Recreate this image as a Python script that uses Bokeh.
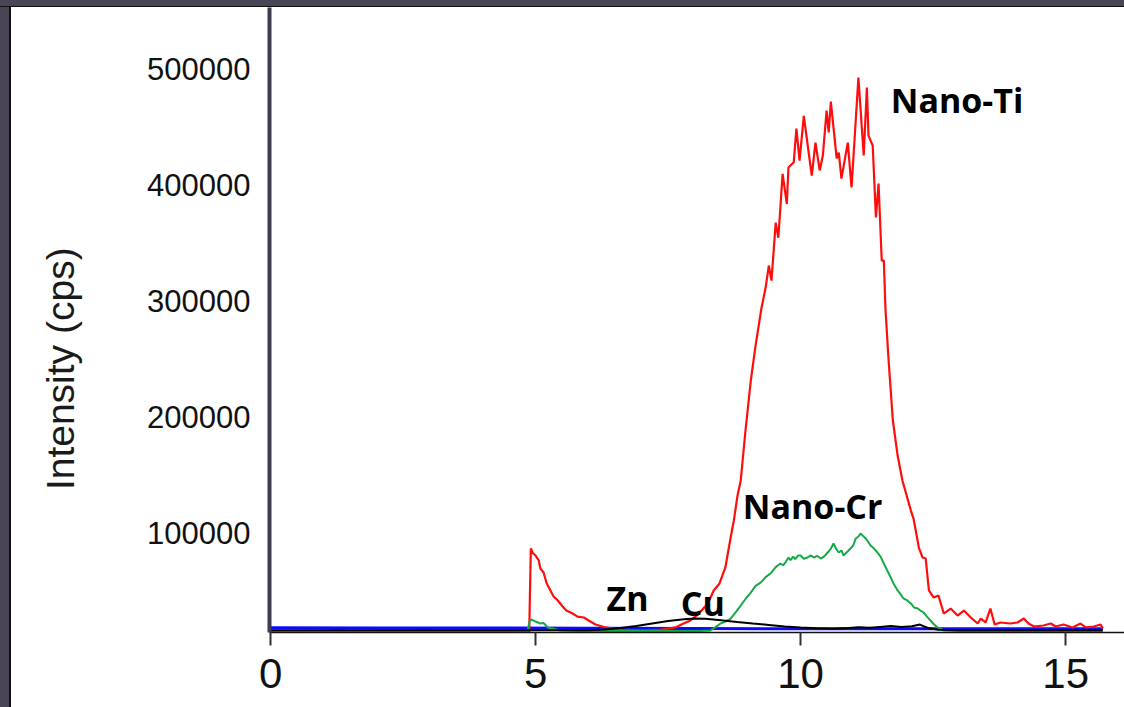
from bokeh.plotting import figure
from bokeh.models import FixedTicker, BasicTickFormatter, Range1d, Spacer, ColumnDataSource
from bokeh.layouts import column, row
from bokeh.core.properties import value
from bokeh.embed import file_html
from bokeh.resources import INLINE

# ---- data (time in min, intensity in cps) ----
red_x = [0.0, 0.5, 1.0, 1.3, 1.6, 2.0, 2.5, 2.9, 3.3, 3.8, 4.0, 4.4, 4.85, 4.88, 4.91, 4.95, 5.0, 5.06, 5.09,
         5.15, 5.21, 5.28, 5.34, 5.42, 5.51, 5.58, 5.70, 5.79, 5.91, 6.0, 6.13, 6.32, 6.60, 6.98, 7.36, 7.64,
         7.79, 7.92, 8.08, 8.25, 8.36, 8.47, 8.58, 8.68, 8.74, 8.81, 8.87, 8.96, 9.06, 9.15, 9.26, 9.34, 9.40,
         9.45, 9.53, 9.58, 9.66, 9.74, 9.77, 9.87, 9.92, 9.98, 10.06, 10.13, 10.21, 10.28, 10.36, 10.42, 10.49,
         10.53, 10.57, 10.68, 10.72, 10.77, 10.89, 10.96, 11.02, 11.09, 11.19, 11.25, 11.28, 11.36, 11.42,
         11.47, 11.53, 11.57, 11.60, 11.66, 11.74, 11.83, 11.92, 12.08, 12.13, 12.23, 12.30, 12.36, 12.42,
         12.51, 12.60, 12.70, 12.83, 12.96, 13.08, 13.21, 13.34, 13.40, 13.49, 13.58, 13.66, 13.77, 13.96,
         14.09, 14.21, 14.30, 14.40, 14.58, 14.72, 14.81, 14.96, 15.13, 15.28, 15.38, 15.53, 15.66, 15.70]
red_y = [15500, 15300, 15600, 16800, 15400, 15200, 15500, 16500, 15300, 15400, 16200, 15300, 15500, 15500,
         87000, 83000, 81000, 76700, 69800, 66400, 56900, 50900, 45700, 42200, 37100, 33600, 31000, 28400,
         27600, 25000, 21600, 19000, 17200, 16400, 17200, 19000, 22400, 25000, 31000, 39700, 50900, 56900,
         70700, 96500, 111200, 132800, 145700, 188800, 231900, 262000, 294000, 312000, 331000, 318000,
         368000, 355000, 410000, 384000, 415500, 420000, 449000, 421500, 460000, 436000, 408600, 437000,
         413000, 426000, 464600, 445700, 472400, 423300, 428400, 406000, 437000, 398300, 441400, 493100,
         426000, 484500, 443000, 434500, 372400, 401700, 335300, 335300, 294000, 249000, 197400, 167200,
         145700, 119800, 112900, 87900, 79300, 78400, 50900, 44800, 46500, 31000, 35300, 29300, 33600,
         27600, 22400, 26700, 23300, 35300, 21600, 23300, 22400, 23300, 26700, 22400, 19800, 20700, 22400,
         19800, 21600, 19000, 22400, 19000, 19800, 21600, 18100]

green_x = [0.0, 4.85, 4.88, 4.92, 5.0, 5.09, 5.15, 5.23, 5.32, 5.47, 5.8, 8.1, 8.30, 8.40, 8.49, 8.58, 8.68,
           8.78, 8.87, 8.97, 9.06, 9.15, 9.25, 9.34, 9.43, 9.53, 9.62, 9.67, 9.72, 9.77, 9.81, 9.86, 9.9, 9.95,
           10.0, 10.06, 10.13, 10.19, 10.25, 10.31, 10.38, 10.45, 10.51, 10.57, 10.62, 10.67, 10.72, 10.77,
           10.81, 10.88, 10.94, 10.99, 11.04, 11.09, 11.13, 11.18, 11.23, 11.32, 11.38, 11.45, 11.51, 11.57,
           11.63, 11.70, 11.76, 11.83, 11.88, 11.94, 12.01, 12.08, 12.14, 12.21, 12.27, 12.32, 12.38, 12.45,
           12.51, 12.58, 12.70, 13.0, 15.7]
green_y = [16000, 16000, 23300, 25900, 24100, 22400, 22800, 19000, 18100, 16400, 16000, 16000, 16400, 19500,
           22400, 24000, 26700, 32500, 37900, 44200, 49100, 54800, 57800, 62400, 65500, 71000, 74100, 72600,
           75500, 79300, 77000, 80100, 78000, 81000, 81000, 78200, 79300, 81200, 79300, 80800, 78400, 80500,
           83600, 86900, 91400, 86700, 83600, 85400, 81000, 84200, 87100, 89600, 95700, 97400, 100000, 97800,
           95700, 89700, 87200, 83600, 79800, 74100, 68500, 62100, 56200, 50900, 47900, 44000, 42300, 39700,
           36200, 35300, 33200, 31900, 28600, 25000, 22000, 19000, 16400, 16000, 16000]

black_x = [0.0, 5.5, 6.0, 6.3, 6.6, 6.9, 7.2, 7.5, 7.8, 8.0, 8.2, 8.5, 8.8, 9.1, 9.4, 9.7, 10.0, 10.3, 10.6,
           10.9, 11.1, 11.3, 11.5, 11.7, 11.9, 12.1, 12.25, 12.4, 12.6, 13.0, 15.7]
black_y = [16500, 16500, 16500, 17300, 18500, 20300, 22400, 24500, 26000, 26700, 26600, 25300, 23800, 22400,
           21200, 19800, 19000, 18300, 17800, 18500, 19200, 18800, 19500, 20200, 19300, 20000, 21500, 18500,
           17000, 16500, 16500]

blue_x = [0.0, 2.0, 4.0, 6.0, 8.0, 10.0, 12.0, 14.0, 15.7]
blue_y = [18800, 18600, 18500, 18300, 18100, 17900, 17900, 17800, 17800]

y_ticks = [100000, 200000, 300000, 400000, 500000]
x_ticks = [0, 5, 10, 15]

label_text = ["Nano-Ti", "Nano-Cr", "Zn", "Cu"]
label_x = [11.70, 8.91, 6.34, 7.74]
label_y = [473300, 124100, 44000, 39700]

# ---- figure ----
p = figure(width=1113, height=700, output_backend="svg", toolbar_location=None,
           x_range=Range1d(-0.02, 16.11), y_range=Range1d(14655, 553448),
           min_border_left=258, min_border_right=0, min_border_top=0, min_border_bottom=75)
p.background_fill_color = "white"
p.border_fill_color = "white"
p.outline_line_color = None
p.grid.visible = False

p.line(blue_x, blue_y, line_color="#0a0aff", line_width=3)
p.line(red_x, red_y, line_color="#ff0d0d", line_width=2.2)
p.line(green_x, green_y, line_color="#14aa46", line_width=2)
p.line(black_x, black_y, line_color="#000000", line_width=2)

src = ColumnDataSource(dict(x=label_x, y=label_y, t=label_text))
p.text(x="x", y="y", text="t", source=src, text_font=value("Open Sans"), text_font_style="bold",
       text_font_size="34px", text_color="black", text_align="left", text_baseline="middle")

xa = p.xaxis[0]
xa.ticker = FixedTicker(ticks=x_ticks)
xa.minor_tick_line_color = None
xa.major_tick_in = 0
xa.major_tick_out = 13
xa.major_tick_line_width = 2
xa.major_tick_line_color = "#333333"
xa.axis_line_color = "#111111"
xa.axis_line_width = 1.5
xa.major_label_text_font = "Liberation Sans"
xa.major_label_text_font_size = "42px"
xa.major_label_text_color = "#111111"
xa.major_label_standoff = 13

ya = p.yaxis[0]
ya.ticker = FixedTicker(ticks=y_ticks)
ya.formatter = BasicTickFormatter(use_scientific=False)
ya.minor_tick_line_color = None
ya.major_tick_line_color = None
ya.major_tick_in = 0
ya.major_tick_out = 0
ya.axis_line_color = "#3f3a4e"
ya.axis_line_width = 4
ya.major_label_text_font = "Liberation Sans"
ya.major_label_text_font_size = "31px"
ya.major_label_text_color = "#111111"
ya.major_label_standoff = 19
# trailing no-break spaces shift the centred label towards the bottom, as in the original
ya.axis_label = "Intensity (cps)" + "\u00a0" * 9
ya.axis_label_text_font = "Liberation Sans"
ya.axis_label_text_font_size = "39px"
ya.axis_label_text_font_style = "normal"
ya.axis_label_text_color = "#1a1a1a"
ya.axis_label_standoff = 62

top = Spacer(width=1124, height=7, styles={"background": "linear-gradient(to bottom, #4a4556 0px, #4a4556 6px, #111 6px, #111 7px)"})
left = Spacer(width=11, height=700, styles={"background": "linear-gradient(to right, #4a4556 0px, #4a4556 9px, #111 9px, #111 11px)"})
layout = column(top, row(left, p))

open("out.html", "w").write(file_html(layout, INLINE))
